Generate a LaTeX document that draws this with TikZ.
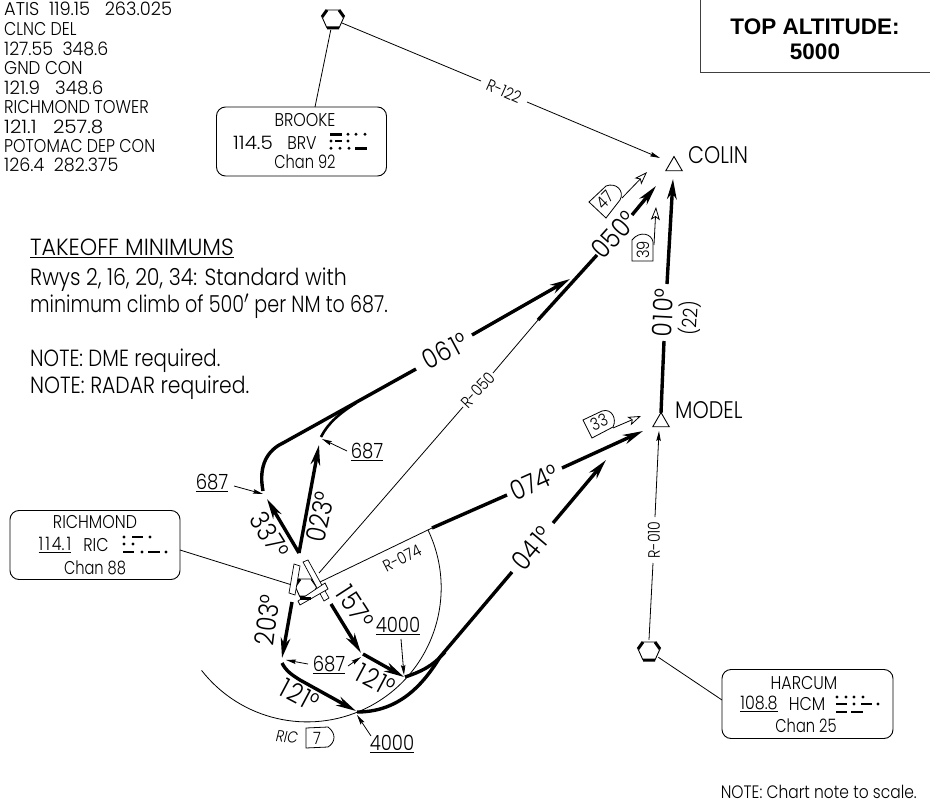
\documentclass[tikz,border=0pt]{standalone}
\usepackage{fontspec}
\usetikzlibrary{arrows.meta,shapes.geometric,calc}
\setmainfont{Poppins}[UprightFont={* Light},ItalicFont={* Light Italic},FakeStretch=0.86]
\newfontfamily\boldhead{Liberation Sans}[BoldFont={Liberation Sans Bold}]
\newcommand{\fz}[1]{\fontsize{#1}{#1}\selectfont}
\newcommand{\kn}{\kern2pt\relax}
\tikzset{
  thinl/.style={line width=0.8pt,black},
  thinarr/.style={thinl,-{Stealth[length=10pt,width=4.5pt,inset=1.5pt]}},
  thick3/.style={line width=3.4pt,black},
  thickarr/.style={thick3,-{Stealth[length=20pt,width=9.5pt,inset=6pt]}},
  openarr/.style={line width=0.8pt,-{Stealth[open,fill=white,length=13pt,width=9pt,inset=3pt]}},
  course/.style={font=\fz{27},inner sep=0pt,anchor=center},
  rlabel/.style={font=\fz{16.5},inner sep=0pt},
  infotext/.style={font=\fz{18.5},inner sep=0pt,anchor=base west},
  notetext/.style={font=\fz{23.4},inner sep=0pt,anchor=base west},
  alt/.style={font=\fz{21},inner sep=0pt},
  fixlabel/.style={font=\fz{24},inner sep=0pt,anchor=base west},
  navbox/.style={draw,line width=0.9pt,rounded corners=9pt,inner sep=0pt},
  boxtext/.style={font=\fz{18.5},inner sep=0pt},
  vornode/.style={circle,minimum size=22pt,inner sep=0pt},
  fixtri/.style={regular polygon,regular polygon sides=3,draw,line width=0.9pt,minimum size=19pt,inner sep=0pt,fill=white},
  tag/.style={font=\fz{17},inner sep=0pt},
  tagline/.style={line width=0.8pt,fill=white},
  rwy/.style={draw,line width=0.7pt,fill=white},
}
% VOR symbol: hexagon, three thick sides
\newcommand{\vorsym}[2]{%
  \begin{scope}[shift={(#1,#2)}]
    \draw[line width=0.9pt] (-11,-2)--(-6,-9)--(6,-9)--(11,-2)--(6,9)--(-6,9)--cycle;
    \draw[line width=3pt] (-11,-2)--(-6,-9) (6,-9)--(11,-2) (-6,9)--(6,9);
  \end{scope}}
\newcommand{\mdash}[3]{\fill (#1,#3-1.4) rectangle (#2,#3+1.4);}
\newcommand{\mdot}[2]{\fill (#1,#2) circle[radius=1.6];}
\begin{document}
\begin{tikzpicture}[x=1pt,y=-1pt]
\useasboundingbox (0,0) rectangle (930,808);
% top altitude box
\draw[line width=0.8pt,black!75] (700,-2) -- (700,72) -- (932,72);
\node[font=\boldhead\bfseries\fz{22.5},align=center,inner sep=0pt] (topalt) at (815,39.5) {TOP ALTITUDE:\\[3pt]5000};
% comms
\node[infotext,xscale=1.12] (c1) at (4,15.5) {ATIS\ \ 119.15\ \ \ 263.025};
\node[infotext] (c2) at (4,35.5) {CLNC DEL};
\node[infotext,xscale=1.09] (c3) at (4,55.5) {127.55\ \ 348.6};
\node[infotext,xscale=1.05] (c4) at (4,74.5) {GND CON};
\node[infotext,xscale=1.15] (c5) at (4,94.5) {121.9\ \ \ 348.6};
\node[infotext,xscale=1.02] (c6) at (4,113.5) {RICHMOND TOWER};
\node[infotext,xscale=1.25] (c7) at (4,133.5) {121.1\ \ \ 257.8};
\node[infotext] (c8) at (4,152.5) {POTOMAC DEP CON};
\node[infotext,xscale=1.1] (c9) at (4,171.5) {126.4\ \ 282.375};
% notes
\node[notetext,xscale=1.1] (n1) at (30,255.5) {\underline{TAKEOFF MINIMUMS}};
\node[notetext,xscale=1.02] (n2) at (30,285.5) {Rwys 2, 16, 20, 34: Standard with};
\node[notetext,xscale=0.95] (n3) at (30,312.5) {minimum climb of 500$'$ per NM to 687.};
\node[notetext,xscale=0.98] (n4) at (30,366.5) {NOTE: DME required.};
\node[notetext,xscale=1.01] (n5) at (30,393.5) {NOTE: RADAR required.};
\node[font=\fz{18},inner sep=0pt,anchor=base east] (n6) at (917,798) {NOTE: Chart note to scale.};
% named points
\node[vornode] (ric) at (307,588) {};
\node[vornode] (brv) at (333,19) {};
\node[vornode] (hcm) at (649,651) {};
\node[fixtri] (colin) at (674,166) {};
\node[fixtri] (model) at (661,422) {};
\node[fixlabel] (colinl) at (688,163) {COLIN};
\node[fixlabel] (modell) at (675,418) {MODEL};
% nav boxes
\node[navbox,minimum width=170pt,minimum height=69pt] (brookebox) at (301.5,141.5) {};
\node[navbox,minimum width=170pt,minimum height=69pt] (ricbox) at (95,545) {};
\node[navbox,minimum width=171pt,minimum height=69pt] (hcmbox) at (807.5,704) {};
\node[boxtext] (bk1) at (305,120) {BROOKE};
\node[boxtext,xscale=1.25] (bk2) at (253,143) {114.5};
\node[boxtext] (bk3) at (302,143) {BRV};
\node[boxtext,xscale=0.92] (bk4) at (305,162) {Chan 92};
\node[boxtext] (rc1) at (95,522) {RICHMOND};
\node[boxtext] (rc2) at (55,545) {\underline{1\kn1\kn4.\kn1}};
\node[boxtext] (rc3) at (96,545) {RIC};
\node[boxtext,xscale=0.92] (rc4) at (95,568) {Chan 88};
\node[boxtext] (hc1) at (804,683) {HARCUM};
\node[boxtext] (hc2) at (759,704) {\underline{108.8}};
\node[boxtext] (hc3) at (807,704) {HCM};
\node[boxtext,xscale=0.92] (hc4) at (806,726) {Chan 25};
% morse
\mdash{330}{342}{134.3}\mdot{348}{134.3}\mdot{356}{134.3}\mdot{365}{134.3}
\mdot{331}{141}\mdash{335}{342}{141}\mdot{348}{141}
\mdot{331}{148.3}\mdot{340}{148.3}\mdot{349}{148.3}\mdash{355}{367}{148.3}
\mdot{124}{537}\mdash{132}{143}{537}\mdot{150}{537}
\mdot{124}{544}\mdot{133}{544}
\mdash{123}{134}{552}\mdot{142}{552}\mdash{148}{160}{552}\mdot{166}{552}
\mdot{837}{697}\mdot{846}{697}\mdot{854}{697}\mdot{863}{697}
\mdash{836}{847}{704}\mdot{854}{704}\mdash{861}{872}{704}\mdot{878}{704}
\mdash{836}{847}{712}\mdash{851}{863}{712}
% box leaders
\coordinate (brvbox) at (315,107);
\coordinate (ricboxr) at (180,550);
\coordinate (ricl) at (292,585);
\coordinate (hcmboxl) at (722,700);
\draw[thinl] (brvbox) -- (brv);
\draw[thinl] (ricboxr) -- (ricl);
\draw[thinl] (hcmboxl) -- (hcm);
% radials
\node[rlabel,rotate=-24] (r122) at (504,91) {R-122};
\node[rlabel,rotate=47] (r050) at (478,390) {R-050};
\node[rlabel,rotate=27] (r074) at (402,558) {R-074};
\node[rlabel,rotate=90] (r010) at (654,540) {R-010};
\coordinate (r122s) at (481,81);
\coordinate (r122e) at (527,102);
\coordinate (colina) at (660,158);
\coordinate (ricne) at (319,573);
\coordinate (r050a) at (463,407);
\coordinate (r050b) at (493,373);
\coordinate (f050a) at (538,320);
\coordinate (rice) at (320,582);
\coordinate (f074a) at (432,528);
\coordinate (r010a) at (653,563);
\coordinate (r010b) at (655,517);
\coordinate (modela) at (659,431);
\coordinate (brvr) at (342,23);
\draw[thinl] (brvr) -- (r122s);
\draw[thinarr] (r122e) -- (colina);
\draw[thinl] (ricne) -- (r050a);
\draw[thinl] (r050b) -- (f050a);
\draw[thinl] (rice) -- (f074a);
\draw[thinl] (hcm.north) -- (r010a);
\draw[thinarr] (r010b) -- (modela);
% DME arc
\draw[thinl] (f074a) ++(-4,2) arc[start angle=-25.6,end angle=142,radius=134];
% runway symbols
\vorsym{306}{588}
\draw[rwy] (294,564)--(300,566)--(295,595)--(289,593)--cycle;
\draw[rwy] (303,562)--(308,560)--(329,598)--(324,601)--cycle;
\draw[rwy] (298,601)--(300,605)--(328,589)--(325,583)--cycle;
\draw[line width=3pt] (300,598)--(311,598);
\vorsym{333}{19}
\vorsym{649}{651}
% courses
\coordinate (dep) at (299,553);
\coordinate (a337) at (267,499);
\coordinate (a023) at (319,445);
\draw[thickarr] (dep) -- (a337);
\draw[thickarr] (dep) -- (a023);
\node[course,rotate=-58] (l337) at (270,535) {337°};
\node[course,rotate=78] (l023) at (320,517) {023°};
\coordinate (t687a) at (263,491);
\coordinate (c061a) at (416,369);
\coordinate (c061b) at (472,335);
\coordinate (a061) at (570,279);
\draw[thick3] (t687a) .. controls (258,465) and (268,450) .. (283,443) -- (c061a);
\draw[thickarr] (c061b) -- (a061);
\node[course,rotate=28] (l061) at (445,351) {06\kn1°};
\coordinate (t687b) at (321,437);
\coordinate (m687) at (356,403);
\draw[line width=2.6pt] (t687b) .. controls (328,423) and (340,413) .. (m687);
\coordinate (f050b) at (597,255);
\coordinate (f050c) at (632,215);
\coordinate (a050) at (656,186);
\draw[thick3] (f050a) -- (f050b);
\draw[thickarr] (f050c) -- (a050);
\node[course,rotate=48] (l050) at (614,235) {050°};
\coordinate (f010a) at (661,413);
\coordinate (f010b) at (664,341);
\coordinate (f010c) at (667,284);
\coordinate (a010) at (673,179);
\draw[thick3] (f010a) -- (f010b);
\draw[thickarr] (f010c) -- (a010);
\node[course,rotate=87] (l010) at (663,313) {0\kn1\kn0°};
\node[font=\fz{20},inner sep=0pt,rotate=87] (l22) at (690,318) {(22)};
\coordinate (f074b) at (507,495);
\coordinate (f074c) at (562,468);
\coordinate (a074) at (643,431);
\draw[thick3] (f074a) -- (f074b);
\draw[thickarr] (f074c) -- (a074);
\node[course,rotate=24] (l074) at (534,482) {074°};
\coordinate (s203) at (292,602);
\coordinate (a203) at (282,658);
\draw[thickarr] (s203) -- (a203);
\node[course,rotate=83] (l203) at (267,620) {203°};
\coordinate (s157) at (331,604);
\coordinate (a157) at (361,653);
\draw[thickarr] (s157) -- (a157);
\node[course,rotate=-57] (l157) at (355,607) {1\kn57°};
\coordinate (s121) at (363,654);
\coordinate (a121) at (404,677);
\draw[thickarr] (s121) -- (a121);
\node[course,rotate=-28] (l121a) at (376,680) {1\kn2\kn1°};
\coordinate (s121b) at (282,663);
\coordinate (a121b) at (356,711);
\draw[thickarr] (s121b) .. controls (286,671) and (292,675) .. (300,680) -- (a121b);
\node[course,rotate=-28] (l121b) at (300,695) {1\kn2\kn1°};
\coordinate (s041) at (357,712);
\coordinate (e041) at (512,572);
\coordinate (s041b) at (405,677);
\coordinate (m041) at (445,652);
\coordinate (c041) at (553,523);
\coordinate (a041) at (606,460);
\draw[thick3] (s041) .. controls (395,712) and (420,690) .. (440,657) -- (e041);
\draw[thick3] (s041b) .. controls (420,672) and (432,667) .. (m041);
\draw[thickarr] (c041) -- (a041);
\node[course,rotate=50] (l041) at (532,548) {04\kn1°};
% altitudes
\node[alt] (a687l) at (212,483) {\underline{687}};
\coordinate (a687le) at (234,486);
\coordinate (a687lt) at (263,494);
\draw[thinarr] (a687le) -- (a687lt);
\node[alt] (a687r) at (367,452) {\underline{687}};
\coordinate (a687re) at (347,451);
\coordinate (a687rt) at (322,439);
\draw[thinarr] (a687re) -- (a687rt);
\node[alt] (a687m) at (329,665) {\underline{687}};
\coordinate (a687ma) at (308,664);
\coordinate (a687mb) at (286,660);
\coordinate (a687mc) at (348,666);
\coordinate (a687md) at (361,657);
\draw[thinarr] (a687ma) -- (a687mb);
\draw[thinarr] (a687mc) -- (a687md);
\node[alt] (a4000t) at (398,626) {\underline{4000}};
\coordinate (a4tb) at (401,639);
\coordinate (a4te) at (404,675);
\draw[thinarr] (a4tb) -- (a4te);
\node[alt] (a4000b) at (392,744) {\underline{4000}};
\coordinate (a4bb) at (371,736);
\coordinate (a4be) at (357,715);
\draw[thinarr] (a4bb) -- (a4be);
% MEA tags
\draw[tagline] (589,202)--(606,218)--(620,200) .. controls (625,191) and (616,182) .. (606,186) --cycle;
\node[tag,rotate=45] (t47) at (605,200) {47};
\coordinate (o47a) at (622,198);
\coordinate (o47b) at (647,172);
\draw[openarr] (o47a) -- (o47b);
\draw[tagline] (632,240)--(632,261)--(653,261)--(653,242) .. controls (652,234) and (640,230) .. (632,240) --cycle;
\node[tag,rotate=90] (t39) at (643,250) {39};
\coordinate (o39a) at (654,245);
\coordinate (o39b) at (656,207);
\draw[openarr] (o39a) -- (o39b);
\draw[tagline] (583,420)--(592,438)--(613,427) .. controls (617,419) and (612,408) .. (602,411) --cycle;
\node[tag,rotate=24] (t33) at (599,422) {33};
\coordinate (o33a) at (613,428);
\coordinate (o33b) at (641,416);
\draw[openarr] (o33a) -- (o33b);
\draw[tagline] (306,728)--(306,748)--(328,747) .. controls (336,742) and (336,733) .. (328,727) --cycle;
\node[tag] (t7) at (317,738) {7};
\node[font=\itshape\fz{16},inner sep=0pt,rotate=-5] (ricl2) at (287,737) {RIC};
\end{tikzpicture}
\end{document}
